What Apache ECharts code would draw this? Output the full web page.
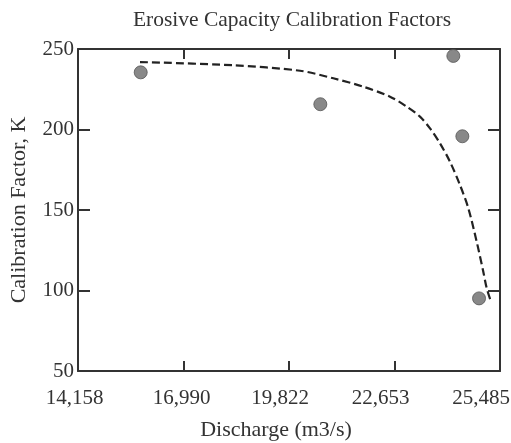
<!DOCTYPE html>
<html>
<head>
<meta charset="utf-8">
<script src="https://cdn.jsdelivr.net/npm/echarts@6/dist/echarts.min.js"></script>
<style>
  html, body { margin: 0; padding: 0; background: #fff; }
  #chart { width: 511px; height: 443px; }
</style>
</head>
<body>
<div id="chart"></div>
<script>
// measured points (discharge, K)
const pointX = [15841, 20662, 24232, 24474, 24922];
const pointY = [235.5, 215.7, 245.7, 195.8, 95.1];

// dashed fit curve
const curveX = [15822, 18318, 20117, 21010, 21816, 22532, 22980, 23337, 23606, 23874, 24142, 24411, 24634, 24859, 25036, 25128, 25243];
const curveY = [241.9, 239.9, 236.5, 231.8, 226.6, 220.4, 214.2, 208, 200.7, 191.4, 180, 165.5, 151.1, 130.3, 111.7, 101.4, 93];

const xTickLabels = ["14,158", "16,990", "19,822", "22,653", "25,485"];
const yTicks = [50, 100, 150, 200, 250];

const chart = echarts.init(document.getElementById("chart"));

const font = "Liberation Serif";
const axisColor = "#333";

// the original tick labels drift left of their ticks; right padding nudges them
const labelPadRight = [7, 4, 18, 28, 38];
const labelRich = {};
labelPadRight.forEach((p, i) => {
  labelRich["l" + i] = { fontFamily: font, fontSize: 21, color: "#333", padding: [0, p, 0, 0] };
});

const xCommon = {
  type: "value",
  min: 14158,
  max: 25484.4,
  interval: 2831.6,
  axisLine: { lineStyle: { color: axisColor, width: 2 } },
  splitLine: { show: false },
};
const yCommon = {
  type: "value",
  min: yTicks[0],
  max: yTicks[yTicks.length - 1],
  interval: 50,
  axisLine: { lineStyle: { color: axisColor, width: 2 } },
  splitLine: { show: false },
};

const option = {
  backgroundColor: "#fff",
  animation: false,
  title: {
    text: "Erosive Capacity Calibration Factors",
    left: 287,
    textAlign: "center",
    top: 4,
    textStyle: { fontFamily: font, fontWeight: "normal", fontSize: 21.5, color: "#333" },
  },
  grid: { left: 78, right: 11, top: 49, bottom: 72, outerBoundsMode: "none", containLabel: false },
  xAxis: [
    Object.assign({}, xCommon, {
      position: "bottom",
      name: "Discharge (m3/s)",
      nameLocation: "middle",
      nameGap: 48,
      nameTextStyle: { fontFamily: font, fontSize: 22, color: "#333", padding: [0, 26, 0, 0] },
      axisTick: { inside: true, length: 10, lineStyle: { color: axisColor, width: 2 } },
      axisLabel: {
        fontFamily: font, fontSize: 21, color: "#333", margin: 17,
        formatter: (v, i) => "{l" + i + "|" + xTickLabels[i] + "}",
        rich: labelRich,
      },
    }),
    Object.assign({}, xCommon, {
      position: "top",
      axisTick: { inside: true, length: 10, lineStyle: { color: axisColor, width: 2 } },
      axisLabel: { show: false },
    }),
  ],
  yAxis: [
    Object.assign({}, yCommon, {
      position: "left",
      name: "Calibration Factor, K",
      nameLocation: "middle",
      nameGap: 48,
      nameTextStyle: { fontFamily: font, fontSize: 22, color: "#333" },
      axisTick: { inside: true, length: 12, lineStyle: { color: axisColor, width: 2 } },
      axisLabel: { fontFamily: font, fontSize: 21, color: "#333", margin: 4 },
    }),
    Object.assign({}, yCommon, {
      position: "right",
      axisTick: { inside: true, length: 12, lineStyle: { color: axisColor, width: 2 } },
      axisLabel: { show: false },
    }),
  ],
  series: [
    {
      name: "fit",
      type: "line",
      data: curveX.map((x, i) => [x, curveY[i]]),
      smooth: 0.3,
      showSymbol: false,
      symbol: "none",
      lineStyle: { color: "#222", width: 2.2, type: [8, 4] },
      z: 2,
    },
    {
      name: "K",
      type: "scatter",
      data: pointX.map((x, i) => [x, pointY[i]]),
      symbol: "circle",
      symbolSize: 13,
      itemStyle: { color: "#6a6a6a", borderColor: "#555", borderWidth: 1 },
      z: 3,
    },
  ],
};

chart.setOption(option);
</script>
</body>
</html>
